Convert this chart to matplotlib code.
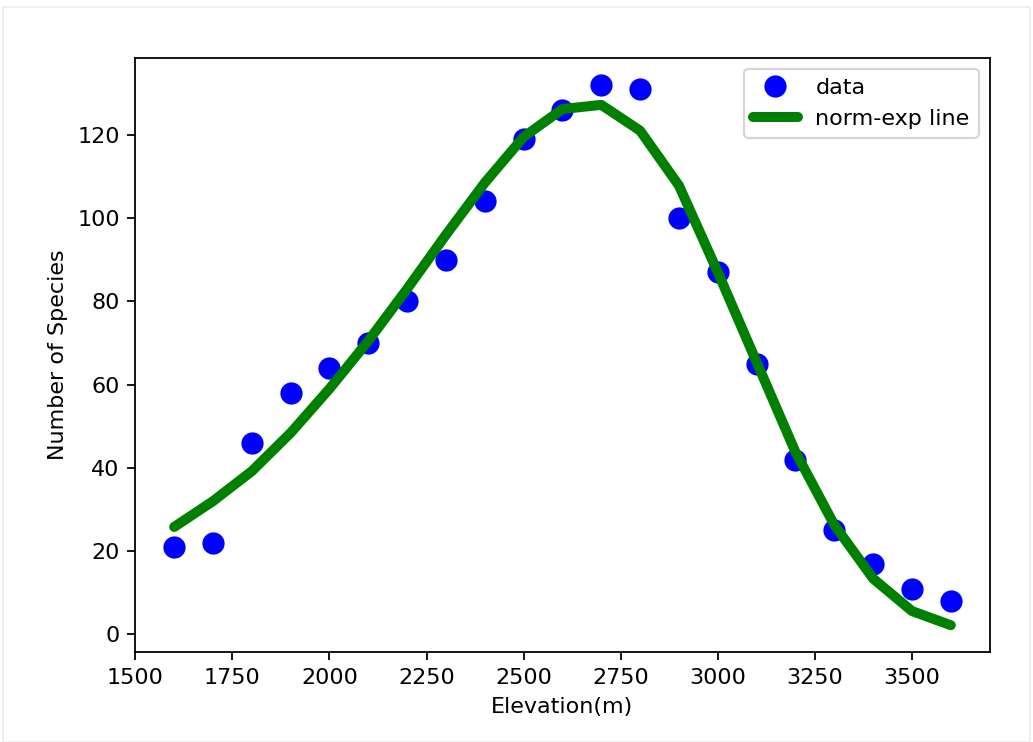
import matplotlib
matplotlib.use("Agg")
import matplotlib.pyplot as plt
from matplotlib.patches import Rectangle

# elevation bands and observed species counts
elevation = [1600, 1700, 1800, 1900, 2000, 2100, 2200, 2300, 2400, 2500, 2600,
             2700, 2800, 2900, 3000, 3100, 3200, 3300, 3400, 3500, 3600]
species = [21, 22, 46, 58, 64, 70, 80, 90, 104, 119, 126,
           132, 131, 100, 87, 65, 42, 25, 17, 11, 8]
# fitted norm-exp curve
fit = [25.8, 32, 39.2, 48.4, 59, 70.5, 83, 96, 108.5, 119.5, 126.2,
       127.2, 121, 107.8, 87, 65.4, 43.8, 26.3, 13.4, 5.6, 2.2]

fig = plt.figure(figsize=(6.45625, 4.6375), dpi=160)
ax = fig.add_axes([0.131, 0.121, 0.827, 0.801])

ax.plot(elevation, species, 'o', color='blue', markersize=9, label='data')
ax.plot(elevation, fit, '-', color='g', linewidth=4.5, solid_capstyle='round',
        label='norm-exp line')

ax.set_xlabel('Elevation(m)')
ax.set_ylabel('Number of Species')
ax.set_xticks([1500, 1750, 2000, 2250, 2500, 2750, 3000, 3250, 3500])
ax.legend(loc='upper right')

# faint screenshot border
fig.patches.append(Rectangle((0.003, 0.0), 0.994, 0.99, transform=fig.transFigure,
                             fill=False, edgecolor='#eeeeee', linewidth=0.8))

fig.savefig('out.png', dpi=160)
